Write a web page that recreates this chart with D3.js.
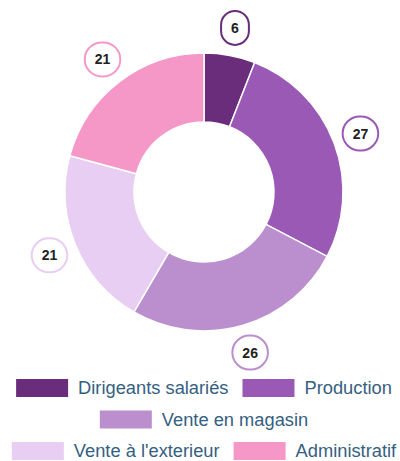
<!DOCTYPE html>
<html>
<head>
<meta charset="utf-8">
<script src="https://cdn.jsdelivr.net/npm/d3@7"></script>
<style>
  body { margin: 0; background: #fff; }
  svg { display: block; font-family: "Liberation Sans", Arial, sans-serif; }
</style>
</head>
<body>
<div id="chart"></div>
<script>
// data
const categories = ['Dirigeants salariés', 'Production', 'Vente en magasin', "Vente à l'exterieur", 'Administratif'];
const values = [6, 27, 26, 21, 21];
const colors = ['#6a2d7b', '#9b59b6', '#bb8fce', '#e8cef3', '#f598c8'];

const width = 400;
const height = 461;
const cx = 204, cy = 192;
const outerR = 139, innerR = 70;
const labelR = 167;

const svg = d3.select('#chart')
    .append('svg')
    .attr('width', width)
    .attr('height', height);

const pie = d3.pie()
    .sort(null)
    .value(d => d);

const arcs = pie(values);

const arc = d3.arc()
    .innerRadius(innerR)
    .outerRadius(outerR);

const labelArc = d3.arc()
    .innerRadius(labelR)
    .outerRadius(labelR);

const chart = svg.append('g')
    .attr('transform', `translate(${cx},${cy})`);

chart.selectAll('.slice')
    .data(arcs)
    .enter()
    .append('path')
    .classed('slice', true)
    .attr('d', arc)
    .attr('fill', (d, i) => colors[i])
    .attr('stroke', '#fff')
    .attr('stroke-width', 1.5);

// value badges
const badges = chart.selectAll('.badge')
    .data(arcs)
    .enter()
    .append('g')
    .classed('badge', true)
    .attr('transform', d => `translate(${labelArc.centroid(d)})`);

badges.append('rect')
    .attr('fill', '#fff')
    .attr('stroke', (d, i) => colors[i])
    .attr('stroke-width', 2);

badges.append('text')
    .attr('text-anchor', 'middle')
    .attr('dy', '0.36em')
    .style('font-size', '14px')
    .style('font-weight', 'bold')
    .attr('fill', '#222')
    .text(d => d.data);

badges.each(function() {
    const g = d3.select(this);
    const tw = g.select('text').node().getComputedTextLength();
    const w = tw + 20, h = 34;
    g.select('rect')
        .attr('x', -w / 2)
        .attr('y', -h / 2)
        .attr('width', w)
        .attr('height', h)
        .attr('rx', Math.min(w, h) / 2)
        .attr('ry', Math.min(w, h) / 2);
});

// legend
const boxW = 52, boxH = 18, gap = 10, itemPad = 14, rowH = 31.5, maxW = 392;
const legend = svg.append('g').classed('legend', true);

const items = legend.selectAll('.item')
    .data(categories)
    .enter()
    .append('g')
    .classed('item', true);

items.append('rect')
    .attr('width', boxW)
    .attr('height', boxH)
    .attr('y', -boxH / 2)
    .attr('fill', (d, i) => colors[i]);

items.append('text')
    .attr('x', boxW + gap)
    .attr('dy', '0.35em')
    .style('font-size', '18.3px')
    .attr('fill', '#35607f')
    .text(d => d);

// wrap items into centred rows
const rows = [];
let row = [], rowW = 0;
items.each(function() {
    const w = boxW + gap + d3.select(this).select('text').node().getComputedTextLength();
    const add = row.length ? itemPad + w : w;
    if (row.length && rowW + add > maxW) {
        rows.push({ items: row, w: rowW });
        row = []; rowW = 0;
    }
    rowW += row.length ? itemPad + w : w;
    row.push({ node: this, w: w });
});
rows.push({ items: row, w: rowW });

rows.forEach((r, ri) => {
    let x = cx - r.w / 2;
    const y = 388 + ri * rowH;
    r.items.forEach(it => {
        d3.select(it.node).attr('transform', `translate(${x},${y})`);
        x += it.w + itemPad;
    });
});
</script>
</body>
</html>
